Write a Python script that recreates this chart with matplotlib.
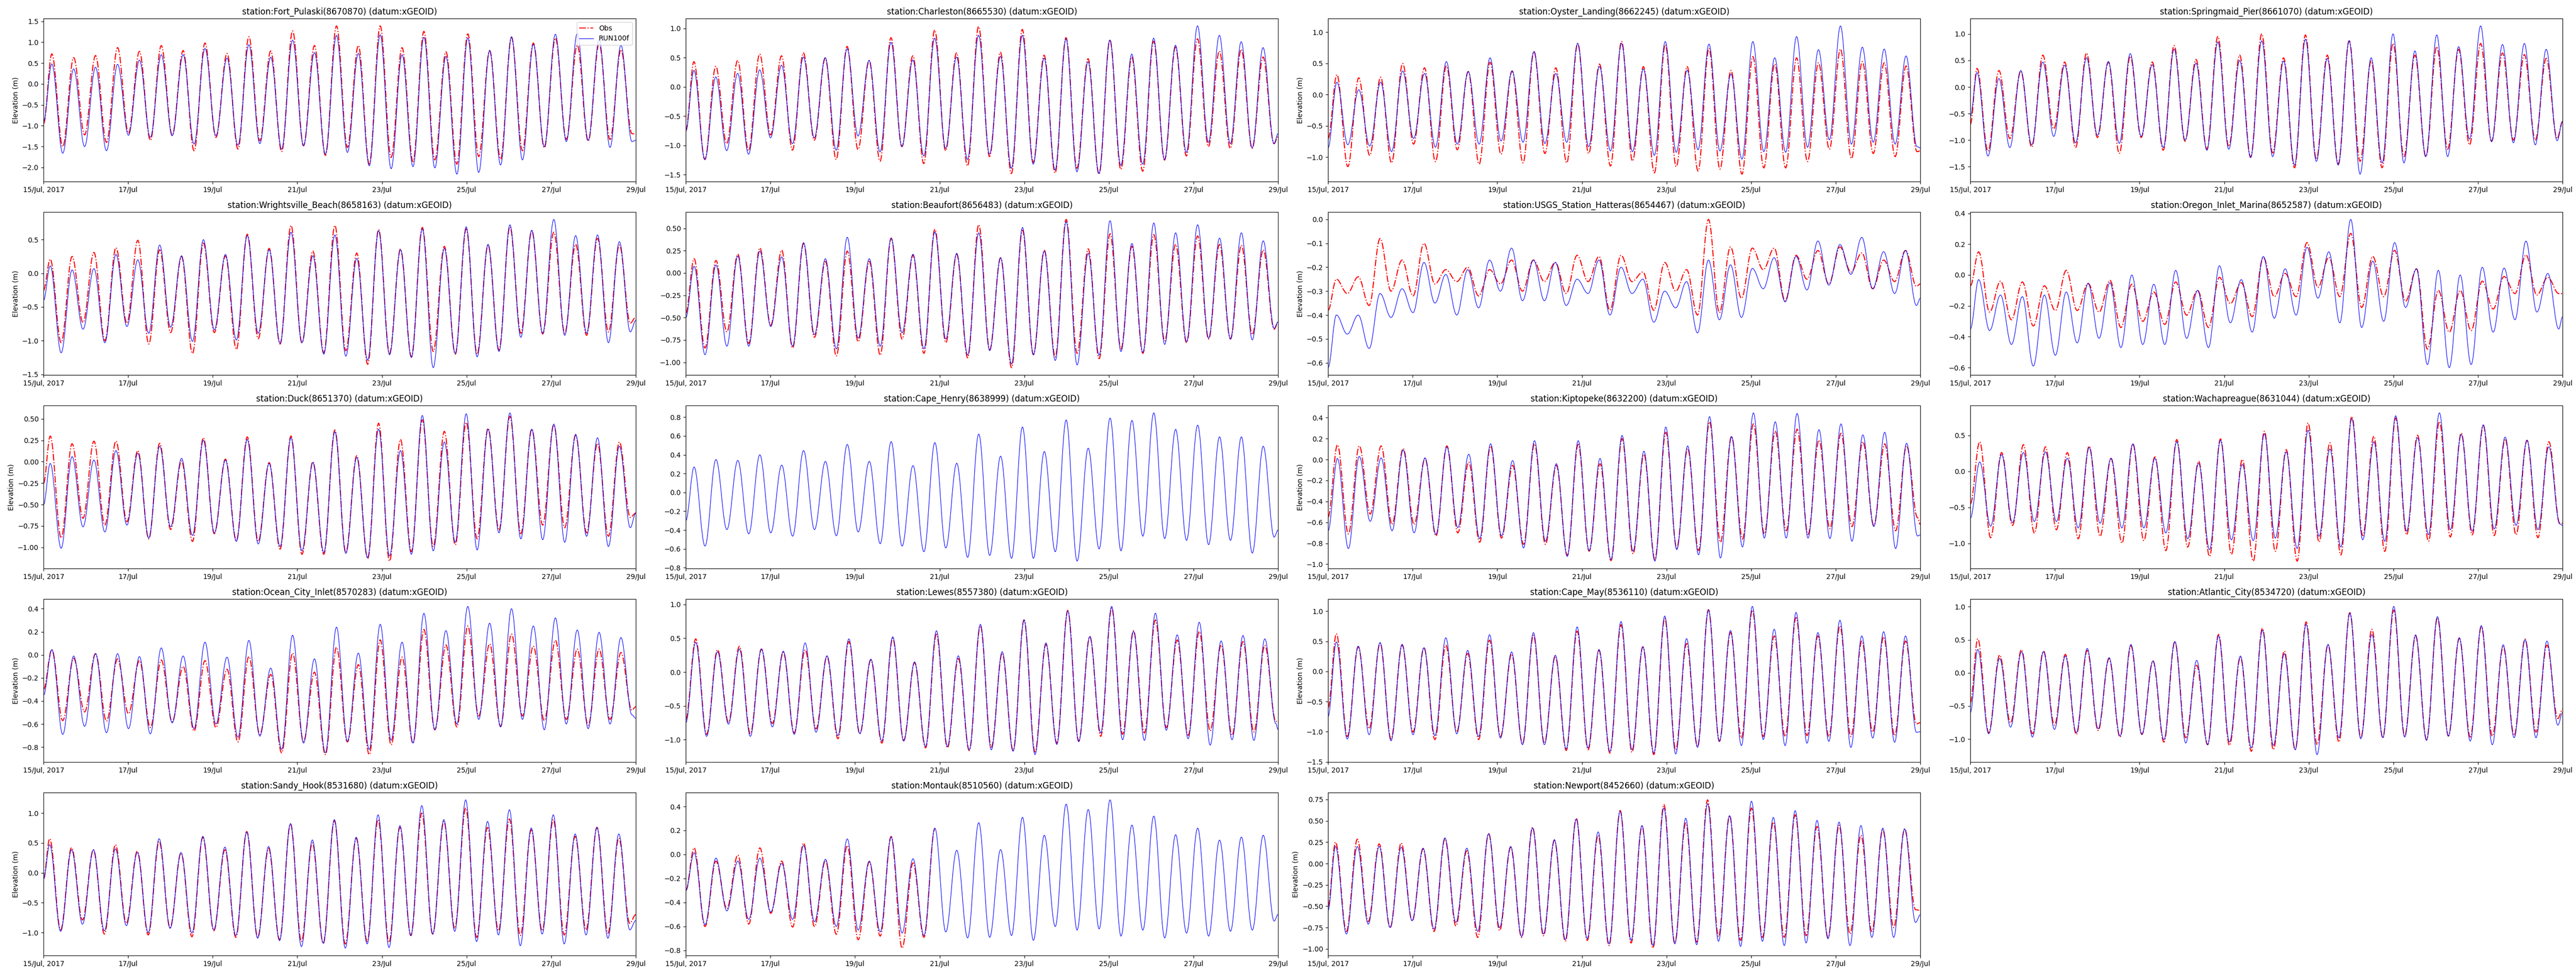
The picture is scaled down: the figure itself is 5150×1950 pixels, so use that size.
"""Water level comparison: observations vs RUN100f, 19 NOAA stations."""
import matplotlib
matplotlib.use("Agg")
import matplotlib.pyplot as plt
import matplotlib.dates as mdates
from matplotlib.lines import Line2D
from matplotlib.path import Path
from matplotlib.patches import PathPatch
import numpy as np

T0 = np.datetime64("2017-07-15T00:00:00")
T_END = np.datetime64("2017-07-29T00:00:00")

# hours (from 15 Jul 00:00) of successive high / low waters
hi_hours = [4.7, 17.1, 29.5, 42.0, 54.4, 66.8, 79.2, 91.6, 104.1, 116.5, 128.9, 141.3, 153.7, 166.2,
            178.6, 191.0, 203.4, 215.8, 228.3, 240.7, 253.1, 265.5, 277.9, 290.4, 302.8, 315.2, 327.6]
lo_hours = [10.9, 23.3, 35.7, 48.2, 60.6, 73.0, 85.4, 97.8, 110.3, 122.7, 135.1, 147.5, 159.9, 172.4,
            184.8, 197.2, 209.6, 222.0, 234.5, 246.9, 259.3, 271.7, 284.1, 296.6, 309.0, 321.4, 333.8]

tick_days = ["2017-07-15", "2017-07-17", "2017-07-19", "2017-07-21", "2017-07-23",
             "2017-07-25", "2017-07-27", "2017-07-29"]
tick_labels = ["15/Jul, 2017", "17/Jul", "19/Jul", "21/Jul", "23/Jul", "25/Jul", "27/Jul", "29/Jul"]

# ends = [obs_start, obs_end, model_start, model_end]
fp_obs_hi = [0.72, 0.63, 0.68, 0.87, 0.78, 0.92, 0.80, 0.98, 0.73, 1.13, 0.79, 1.27, 0.92, 1.39, 0.92, 1.39, 0.87, 1.26, 0.77, 1.20, 0.80, 1.12, 0.98, 1.10, 0.93, 0.97, 0.82]
fp_obs_lo = [-1.50, -1.22, -1.40, -1.18, -1.35, -1.23, -1.60, -1.28, -1.56, -1.36, -1.62, -1.48, -1.71, -1.52, -1.92, -1.76, -1.86, -1.82, -1.92, -1.74, -1.80, -1.60, -1.53, -1.33, -1.37, -1.33, -1.19]
fp_mod_hi = [0.48, 0.36, 0.40, 0.47, 0.57, 0.70, 0.70, 0.85, 0.62, 0.94, 0.64, 1.05, 0.75, 1.16, 0.73, 1.18, 0.70, 1.12, 0.66, 1.10, 0.80, 1.13, 0.95, 1.19, 1.21, 1.06, 0.93]
fp_mod_lo = [-1.66, -1.50, -1.60, -1.23, -1.28, -1.24, -1.44, -1.24, -1.47, -1.43, -1.56, -1.48, -1.68, -1.64, -1.96, -2.03, -1.98, -2.01, -2.16, -2.12, -1.94, -1.82, -1.50, -1.38, -1.35, -1.52, -1.38]
fp_ends = [-0.95, -1.20, -0.90, -1.35]

ch_obs_hi = [0.43, 0.35, 0.45, 0.56, 0.53, 0.58, 0.49, 0.69, 0.45, 0.84, 0.53, 0.97, 0.58, 1.03, 0.59, 0.98, 0.54, 0.84, 0.48, 0.80, 0.51, 0.78, 0.68, 0.82, 0.61, 0.64, 0.51]
ch_obs_lo = [-1.24, -0.97, -1.09, -0.82, -1.08, -0.91, -1.24, -1.07, -1.27, -1.02, -1.31, -1.09, -1.35, -1.19, -1.48, -1.29, -1.47, -1.39, -1.49, -1.41, -1.44, -1.25, -1.18, -1.02, -1.05, -1.05, -0.97]
ch_mod_hi = [0.28, 0.17, 0.23, 0.29, 0.37, 0.51, 0.50, 0.65, 0.45, 0.76, 0.46, 0.83, 0.51, 0.88, 0.52, 0.88, 0.49, 0.82, 0.43, 0.80, 0.56, 0.83, 0.71, 1.04, 0.88, 0.77, 0.67]
ch_mod_lo = [-1.24, -1.09, -1.15, -0.87, -0.97, -0.87, -1.08, -0.84, -1.11, -1.02, -1.18, -1.05, -1.24, -1.15, -1.39, -1.32, -1.42, -1.45, -1.48, -1.34, -1.32, -1.24, -1.12, -0.95, -0.97, -1.04, -0.97]
ch_ends = [-0.75, -0.85, -0.75, -0.80]

oy_obs_hi = [0.32, 0.27, 0.28, 0.50, 0.43, 0.46, 0.37, 0.52, 0.38, 0.69, 0.43, 0.82, 0.49, 0.85, 0.45, 0.80, 0.45, 0.74, 0.39, 0.61, 0.49, 0.59, 0.51, 0.73, 0.53, 0.51, 0.46]
oy_obs_lo = [-1.15, -0.97, -1.09, -0.79, -1.07, -0.88, -1.11, -0.95, -1.09, -0.94, -1.09, -0.94, -1.14, -1.06, -1.25, -1.15, -1.22, -1.19, -1.27, -1.17, -1.17, -1.07, -0.87, -1.02, -0.94, -0.99, -0.91]
oy_mod_hi = [0.20, 0.08, 0.20, 0.38, 0.34, 0.53, 0.37, 0.59, 0.38, 0.69, 0.34, 0.82, 0.45, 0.82, 0.41, 0.85, 0.39, 0.81, 0.33, 0.85, 0.59, 0.93, 0.72, 1.10, 0.76, 0.73, 0.62]
oy_mod_lo = [-0.80, -0.82, -0.91, -0.70, -0.84, -0.79, -0.79, -0.74, -0.76, -0.78, -0.76, -0.83, -0.90, -0.91, -0.97, -0.92, -0.88, -0.90, -1.03, -0.91, -0.92, -0.84, -0.72, -0.79, -0.76, -0.79, -0.83]
oy_ends = [-0.70, -0.90, -0.85, -0.85]

sp_obs_hi = [0.35, 0.31, 0.30, 0.60, 0.47, 0.64, 0.47, 0.58, 0.47, 0.78, 0.52, 0.95, 0.60, 1.00, 0.55, 0.98, 0.60, 0.87, 0.49, 0.82, 0.60, 0.76, 0.71, 0.82, 0.64, 0.61, 0.54]
sp_obs_lo = [-1.21, -0.97, -1.13, -0.79, -1.14, -0.95, -1.25, -0.95, -1.19, -1.02, -1.17, -1.12, -1.32, -1.24, -1.52, -1.36, -1.45, -1.40, -1.52, -1.31, -1.31, -1.17, -1.09, -1.02, -1.00, -1.00, -0.97]
sp_mod_hi = [0.27, 0.16, 0.31, 0.47, 0.41, 0.55, 0.48, 0.63, 0.42, 0.71, 0.45, 0.85, 0.50, 0.87, 0.49, 0.90, 0.54, 0.87, 0.55, 1.00, 0.68, 0.98, 0.76, 1.15, 0.80, 0.82, 0.71]
sp_mod_lo = [-1.30, -1.14, -1.09, -0.93, -1.05, -0.91, -1.06, -0.93, -1.14, -1.00, -1.19, -1.17, -1.33, -1.31, -1.47, -1.40, -1.47, -1.64, -1.43, -1.43, -1.31, -1.31, -0.98, -1.03, -1.05, -1.09, -1.01]
sp_ends = [-0.70, -0.65, -0.55, -0.65]

wb_obs_hi = [0.21, 0.25, 0.31, 0.38, 0.49, 0.35, 0.25, 0.45, 0.26, 0.58, 0.37, 0.71, 0.33, 0.71, 0.30, 0.65, 0.36, 0.68, 0.40, 0.66, 0.42, 0.69, 0.63, 0.61, 0.43, 0.52, 0.42]
wb_obs_lo = [-1.03, -0.73, -1.00, -0.74, -1.05, -0.88, -1.19, -0.88, -1.13, -0.97, -1.05, -1.03, -1.18, -1.15, -1.35, -1.19, -1.24, -1.16, -1.20, -1.20, -1.14, -0.89, -0.90, -0.89, -0.92, -0.87, -0.74]
wb_mod_hi = [0.11, 0.05, 0.07, 0.28, 0.20, 0.42, 0.26, 0.50, 0.28, 0.56, 0.35, 0.61, 0.26, 0.57, 0.22, 0.63, 0.35, 0.66, 0.37, 0.69, 0.43, 0.72, 0.64, 0.80, 0.56, 0.57, 0.47]
wb_mod_lo = [-1.18, -0.83, -1.03, -0.79, -0.89, -0.80, -1.01, -0.84, -0.99, -0.89, -1.04, -1.03, -1.20, -1.23, -1.29, -1.21, -1.25, -1.40, -1.19, -1.24, -1.16, -0.95, -0.89, -0.92, -0.89, -1.03, -0.87]
wb_ends = [-0.25, -0.65, -0.40, -0.70]

bf_obs_hi = [0.16, 0.14, 0.21, 0.28, 0.255, 0.33, 0.13, 0.245, 0.13, 0.39, 0.20, 0.49, 0.21, 0.54, 0.17, 0.48, 0.255, 0.60, 0.27, 0.44, 0.30, 0.43, 0.32, 0.415, 0.32, 0.31, 0.26]
bf_obs_lo = [-0.84, -0.66, -0.79, -0.585, -0.84, -0.72, -0.93, -0.77, -0.92, -0.74, -0.90, -0.78, -0.95, -0.86, -1.06, -0.915, -0.94, -0.90, -0.96, -0.85, -0.90, -0.76, -0.78, -0.74, -0.74, -0.69, -0.63]
bf_mod_hi = [0.075, 0.09, 0.19, 0.245, 0.18, 0.34, 0.16, 0.40, 0.16, 0.39, 0.21, 0.46, 0.22, 0.45, 0.17, 0.51, 0.245, 0.575, 0.22, 0.585, 0.33, 0.56, 0.45, 0.54, 0.39, 0.45, 0.36]
bf_mod_lo = [-0.915, -0.82, -0.82, -0.60, -0.82, -0.69, -0.85, -0.73, -0.82, -0.67, -0.85, -0.74, -0.92, -0.87, -1.02, -0.915, -0.98, -1.03, -0.92, -0.88, -0.89, -0.80, -0.77, -0.73, -0.74, -0.75, -0.62]
bf_ends = [-0.45, -0.55, -0.50, -0.55]

ht_obs_hi = [-0.25, -0.24, -0.08, -0.17, -0.10, -0.21, -0.20, -0.21, -0.17, -0.17, -0.18, -0.15, -0.155, -0.15, -0.22, -0.18, -0.21, 0.0, -0.115, -0.12, -0.12, -0.15, -0.13, -0.115, -0.14, -0.17, -0.13]
ht_obs_lo = [-0.31, -0.36, -0.30, -0.32, -0.27, -0.26, -0.32, -0.27, -0.30, -0.26, -0.31, -0.26, -0.38, -0.26, -0.38, -0.30, -0.40, -0.39, -0.33, -0.21, -0.34, -0.25, -0.27, -0.22, -0.29, -0.26, -0.28]
ht_mod_hi = [-0.40, -0.40, -0.31, -0.29, -0.18, -0.23, -0.21, -0.17, -0.12, -0.17, -0.18, -0.25, -0.17, -0.20, -0.25, -0.30, -0.26, -0.17, -0.19, -0.205, -0.16, -0.155, -0.09, -0.105, -0.075, -0.135, -0.13]
ht_mod_lo = [-0.48, -0.54, -0.41, -0.39, -0.35, -0.40, -0.37, -0.30, -0.34, -0.34, -0.36, -0.31, -0.40, -0.31, -0.43, -0.37, -0.475, -0.42, -0.41, -0.29, -0.345, -0.295, -0.275, -0.23, -0.29, -0.31, -0.36]
ht_ends = [-0.38, -0.27, -0.62, -0.33]

or_obs_hi = [0.15, -0.04, -0.045, -0.07, 0.03, -0.055, -0.035, -0.06, -0.11, -0.045, -0.10, -0.015, -0.05, 0.115, 0.01, 0.21, 0.115, 0.27, 0.12, 0.16, 0.04, -0.10, -0.10, -0.04, -0.01, 0.13, -0.015]
or_obs_lo = [-0.24, -0.29, -0.33, -0.23, -0.23, -0.24, -0.34, -0.30, -0.32, -0.26, -0.34, -0.185, -0.27, -0.14, -0.14, -0.08, -0.14, -0.21, -0.14, -0.17, -0.48, -0.37, -0.36, -0.22, -0.12, -0.13, -0.12]
or_mod_hi = [-0.03, -0.13, -0.14, -0.13, -0.11, -0.055, -0.05, 0.0, -0.06, 0.03, -0.10, 0.06, -0.03, 0.12, 0.04, 0.18, 0.15, 0.36, 0.09, 0.21, 0.04, 0.03, 0.0, 0.05, 0.045, 0.22, 0.01]
or_mod_lo = [-0.36, -0.45, -0.59, -0.52, -0.44, -0.41, -0.47, -0.45, -0.45, -0.41, -0.47, -0.31, -0.37, -0.28, -0.26, -0.15, -0.31, -0.34, -0.30, -0.21, -0.58, -0.60, -0.58, -0.37, -0.29, -0.24, -0.35]
or_ends = [-0.07, -0.12, -0.35, -0.27]

dk_obs_hi = [0.30, 0.21, 0.24, 0.24, 0.13, 0.215, 0.01, 0.28, 0.03, 0.29, -0.01, 0.30, 0.00, 0.37, 0.07, 0.45, 0.26, 0.49, 0.355, 0.46, 0.39, 0.53, 0.38, 0.43, 0.31, 0.215, 0.23]
dk_obs_lo = [-0.89, -0.66, -0.74, -0.70, -0.90, -0.79, -0.93, -0.84, -0.92, -0.93, -1.02, -1.08, -1.08, -1.06, -1.13, -1.16, -1.05, -0.99, -0.97, -0.90, -0.80, -0.84, -0.74, -0.77, -0.83, -0.87, -0.65]
dk_mod_hi = [-0.02, 0.06, 0.02, 0.13, 0.10, 0.18, 0.04, 0.25, 0.02, 0.26, -0.02, 0.28, -0.01, 0.35, 0.05, 0.38, 0.13, 0.54, 0.23, 0.56, 0.38, 0.57, 0.38, 0.44, 0.32, 0.28, 0.18]
dk_mod_lo = [-1.01, -0.76, -0.82, -0.74, -0.89, -0.76, -0.86, -0.83, -0.93, -0.96, -0.99, -1.04, -1.06, -1.07, -1.12, -1.10, -1.08, -1.04, -0.94, -1.03, -0.83, -0.90, -0.91, -0.94, -0.87, -0.99, -0.77]
dk_ends = [-0.25, -0.60, -0.50, -0.60]

chn_mod_hi = [0.27, 0.35, 0.34, 0.40, 0.29, 0.445, 0.33, 0.51, 0.33, 0.54, 0.285, 0.53, 0.31, 0.62, 0.385, 0.695, 0.435, 0.77, 0.47, 0.79, 0.765, 0.845, 0.67, 0.715, 0.59, 0.59, 0.49]
chn_mod_lo = [-0.57, -0.395, -0.44, -0.43, -0.465, -0.395, -0.46, -0.42, -0.545, -0.57, -0.63, -0.59, -0.69, -0.67, -0.70, -0.70, -0.63, -0.73, -0.60, -0.62, -0.465, -0.49, -0.51, -0.555, -0.51, -0.645, -0.475]
chn_ends = [None, None, -0.30, -0.40]

kp_obs_hi = [0.14, 0.13, 0.13, 0.105, 0.01, 0.13, -0.025, 0.13, -0.055, 0.15, -0.055, 0.145, -0.04, 0.20, 0.05, 0.26, 0.105, 0.36, 0.22, 0.34, 0.27, 0.29, 0.185, 0.25, 0.17, 0.15, 0.13]
kp_obs_lo = [-0.71, -0.52, -0.62, -0.62, -0.73, -0.70, -0.79, -0.75, -0.81, -0.81, -0.915, -0.875, -0.965, -0.90, -0.955, -0.845, -0.87, -0.79, -0.76, -0.71, -0.68, -0.715, -0.66, -0.64, -0.63, -0.68, -0.555]
kp_mod_hi = [0.01, 0.03, 0.016, 0.09, 0.016, 0.12, 0.05, 0.15, -0.01, 0.18, -0.04, 0.18, 0.01, 0.23, 0.08, 0.31, 0.13, 0.41, 0.22, 0.445, 0.36, 0.44, 0.285, 0.34, 0.235, 0.26, 0.155]
kp_mod_lo = [-0.85, -0.59, -0.68, -0.70, -0.715, -0.65, -0.755, -0.73, -0.845, -0.78, -0.925, -0.87, -0.955, -0.875, -0.97, -0.86, -0.91, -0.94, -0.835, -0.75, -0.75, -0.75, -0.755, -0.78, -0.64, -0.85, -0.73]
kp_ends = [-0.55, -0.62, -0.68, -0.72]

wc_obs_hi = [0.41, 0.26, 0.37, 0.34, 0.26, 0.35, 0.18, 0.38, 0.20, 0.44, 0.14, 0.45, 0.165, 0.555, 0.30, 0.67, 0.395, 0.76, 0.485, 0.74, 0.50, 0.69, 0.53, 0.635, 0.45, 0.43, 0.41]
wc_obs_lo = [-0.92, -0.75, -0.855, -0.81, -0.935, -0.90, -0.995, -0.96, -1.10, -1.05, -1.18, -1.15, -1.245, -1.11, -1.245, -0.98, -1.16, -0.89, -1.11, -0.88, -0.97, -0.91, -0.88, -0.89, -0.88, -0.92, -0.72]
wc_mod_hi = [0.13, 0.23, 0.26, 0.27, 0.18, 0.33, 0.18, 0.38, 0.18, 0.41, 0.11, 0.43, 0.095, 0.52, 0.27, 0.57, 0.31, 0.73, 0.41, 0.77, 0.465, 0.81, 0.51, 0.645, 0.475, 0.43, 0.34]
wc_mod_lo = [-0.76, -0.71, -0.695, -0.695, -0.785, -0.72, -0.785, -0.785, -0.855, -0.935, -1.085, -0.95, -0.96, -0.925, -1.07, -0.90, -1.05, -0.95, -0.97, -0.83, -0.88, -0.81, -0.83, -0.80, -0.75, -0.81, -0.73]
wc_ends = [-0.45, -0.72, -0.65, -0.75]

oc_obs_hi = [0.045, -0.03, 0.01, -0.035, -0.05, -0.045, -0.10, -0.05, -0.125, -0.015, -0.17, 0.015, -0.15, 0.065, -0.085, 0.13, -0.02, 0.22, 0.085, 0.25, 0.095, 0.18, 0.075, 0.125, 0.05, 0.05, 0.02]
oc_obs_lo = [-0.57, -0.495, -0.575, -0.51, -0.63, -0.58, -0.66, -0.63, -0.755, -0.69, -0.85, -0.75, -0.865, -0.755, -0.865, -0.78, -0.765, -0.65, -0.625, -0.53, -0.62, -0.53, -0.57, -0.56, -0.61, -0.56, -0.48]
oc_mod_hi = [0.045, -0.01, 0.01, 0.01, -0.015, 0.06, -0.01, 0.11, -0.02, 0.125, -0.115, 0.17, -0.035, 0.24, 0.015, 0.265, 0.11, 0.36, 0.21, 0.42, 0.275, 0.40, 0.25, 0.32, 0.215, 0.195, 0.15]
oc_mod_lo = [-0.69, -0.62, -0.675, -0.64, -0.685, -0.59, -0.64, -0.60, -0.715, -0.705, -0.82, -0.765, -0.85, -0.75, -0.82, -0.74, -0.765, -0.65, -0.60, -0.56, -0.625, -0.56, -0.65, -0.60, -0.64, -0.60, -0.52]
oc_ends = [-0.30, -0.45, -0.35, -0.55]

lw_obs_hi = [0.49, 0.33, 0.38, 0.34, 0.29, 0.33, 0.23, 0.45, 0.18, 0.50, 0.14, 0.56, 0.20, 0.685, 0.28, 0.77, 0.41, 0.91, 0.525, 0.945, 0.61, 0.77, 0.475, 0.60, 0.40, 0.45, 0.395]
lw_obs_lo = [-0.92, -0.74, -0.91, -0.76, -0.90, -0.84, -0.985, -0.91, -1.05, -1.01, -1.12, -1.12, -1.16, -1.11, -1.16, -1.18, -1.05, -1.02, -0.95, -0.92, -0.90, -0.82, -0.935, -0.87, -0.935, -0.885, -0.725]
lw_mod_hi = [0.44, 0.30, 0.34, 0.34, 0.31, 0.43, 0.24, 0.49, 0.19, 0.52, 0.15, 0.61, 0.24, 0.705, 0.30, 0.77, 0.43, 0.90, 0.525, 0.97, 0.60, 0.87, 0.55, 0.735, 0.46, 0.54, 0.49]
lw_mod_lo = [-0.95, -0.77, -0.95, -0.81, -0.92, -0.89, -0.94, -0.91, -1.02, -1.02, -1.10, -1.10, -1.15, -1.15, -1.17, -1.22, -1.07, -1.03, -0.90, -1.00, -1.01, -0.86, -0.985, -1.08, -1.00, -1.01, -0.76]
lw_ends = [-0.70, -0.75, -0.75, -0.85]

cm_obs_hi = [0.625, 0.41, 0.47, 0.44, 0.395, 0.435, 0.30, 0.52, 0.29, 0.60, 0.255, 0.67, 0.35, 0.775, 0.41, 0.88, 0.465, 1.025, 0.65, 1.02, 0.59, 0.895, 0.59, 0.755, 0.505, 0.575, 0.505]
cm_obs_lo = [-1.08, -0.95, -1.12, -1.005, -1.13, -1.005, -1.13, -1.08, -1.20, -1.19, -1.31, -1.30, -1.355, -1.34, -1.38, -1.30, -1.245, -1.16, -1.105, -1.08, -1.08, -1.065, -1.08, -1.08, -1.005, -1.065, -0.87]
cm_mod_hi = [0.49, 0.42, 0.48, 0.45, 0.395, 0.56, 0.35, 0.61, 0.325, 0.645, 0.27, 0.74, 0.365, 0.83, 0.41, 0.92, 0.545, 1.02, 0.68, 1.08, 0.70, 0.98, 0.645, 0.85, 0.59, 0.66, 0.59]
cm_mod_lo = [-1.12, -1.05, -1.15, -1.05, -1.065, -1.035, -1.08, -1.105, -1.215, -1.215, -1.285, -1.27, -1.33, -1.30, -1.355, -1.37, -1.26, -1.16, -1.23, -1.13, -1.23, -1.19, -1.16, -1.26, -1.105, -1.175, -1.01]
cm_ends = [-0.60, -0.85, -0.75, -1.00]

ac_obs_hi = [0.515, 0.27, 0.35, 0.33, 0.28, 0.34, 0.22, 0.41, 0.18, 0.47, 0.115, 0.58, 0.24, 0.675, 0.33, 0.77, 0.425, 0.91, 0.66, 0.95, 0.56, 0.835, 0.525, 0.70, 0.395, 0.51, 0.42]
ac_obs_lo = [-0.905, -0.755, -0.92, -0.79, -0.93, -0.87, -0.97, -0.93, -1.045, -0.98, -1.085, -1.095, -1.185, -1.16, -1.16, -1.085, -1.045, -0.98, -0.98, -0.955, -1.01, -0.955, -0.97, -0.955, -0.945, -0.895, -0.69]
ac_mod_hi = [0.355, 0.22, 0.32, 0.32, 0.255, 0.37, 0.23, 0.43, 0.18, 0.475, 0.19, 0.56, 0.255, 0.645, 0.29, 0.735, 0.43, 0.905, 0.58, 1.005, 0.575, 0.85, 0.53, 0.715, 0.425, 0.50, 0.48]
ac_mod_lo = [-0.92, -0.82, -0.97, -0.855, -0.905, -0.845, -0.955, -0.93, -1.01, -1.06, -1.085, -1.045, -1.135, -1.095, -1.16, -1.235, -0.98, -0.995, -0.98, -0.97, -1.02, -0.955, -1.03, -1.085, -0.98, -0.98, -0.79]
ac_ends = [-0.45, -0.55, -0.60, -0.60]

sh_obs_hi = [0.57, 0.42, 0.385, 0.47, 0.36, 0.525, 0.33, 0.595, 0.385, 0.69, 0.41, 0.82, 0.50, 0.875, 0.58, 0.89, 0.76, 1.00, 0.86, 1.085, 0.76, 0.90, 0.72, 0.89, 0.61, 0.76, 0.58]
sh_obs_lo = [-0.955, -0.79, -1.025, -0.845, -1.04, -0.915, -1.07, -0.97, -1.08, -1.08, -1.12, -1.15, -1.18, -1.19, -1.15, -1.165, -1.05, -1.025, -0.93, -1.08, -0.97, -1.05, -0.97, -1.04, -0.955, -1.01, -0.845]
sh_mod_hi = [0.47, 0.385, 0.385, 0.40, 0.34, 0.57, 0.34, 0.61, 0.43, 0.68, 0.44, 0.82, 0.55, 0.89, 0.595, 0.97, 0.79, 1.125, 0.89, 1.22, 0.86, 1.055, 0.75, 0.97, 0.65, 0.76, 0.65]
sh_mod_lo = [-0.98, -0.86, -0.97, -0.885, -1.00, -0.93, -1.01, -0.955, -1.05, -1.095, -1.135, -1.235, -1.18, -1.26, -1.19, -1.25, -1.05, -1.025, -0.98, -1.15, -1.04, -1.22, -1.025, -1.19, -1.04, -1.095, -0.955]
sh_ends = [-0.10, -0.70, -0.10, -0.80]

# Montauk observations stop on 21 Jul
mt_obs_hi = [0.055, -0.055, -0.005, 0.055, -0.055, 0.095, -0.05, 0.075, -0.06, 0.15, -0.07, 0.215]
mt_obs_lo = [-0.60, -0.45, -0.58, -0.49, -0.605, -0.60, -0.665, -0.71, -0.68, -0.78, -0.69]
mt_mod_hi = [0.015, -0.03, -0.055, -0.03, -0.075, 0.075, -0.04, 0.13, -0.055, 0.145, -0.035, 0.22, 0.035, 0.265, 0.04, 0.31, 0.16, 0.42, 0.375, 0.455, 0.245, 0.32, 0.165, 0.22, 0.12, 0.145, 0.16]
mt_mod_lo = [-0.585, -0.47, -0.54, -0.48, -0.54, -0.56, -0.60, -0.63, -0.645, -0.655, -0.675, -0.645, -0.695, -0.69, -0.675, -0.715, -0.60, -0.63, -0.62, -0.68, -0.63, -0.695, -0.655, -0.68, -0.64, -0.63, -0.555]
mt_ends = [-0.30, None, -0.30, -0.50]

np_obs_hi = [0.25, 0.285, 0.23, 0.24, 0.17, 0.29, 0.15, 0.35, 0.19, 0.425, 0.27, 0.53, 0.33, 0.62, 0.435, 0.69, 0.475, 0.745, 0.56, 0.65, 0.485, 0.57, 0.435, 0.445, 0.33, 0.395, 0.405]
np_obs_lo = [-0.795, -0.68, -0.75, -0.67, -0.795, -0.73, -0.865, -0.785, -0.865, -0.845, -0.91, -0.90, -0.96, -0.93, -0.99, -0.93, -0.92, -0.855, -0.90, -0.865, -0.865, -0.845, -0.865, -0.825, -0.795, -0.75, -0.54]
np_mod_hi = [0.20, 0.20, 0.20, 0.19, 0.18, 0.30, 0.18, 0.35, 0.20, 0.415, 0.28, 0.52, 0.37, 0.61, 0.445, 0.65, 0.53, 0.70, 0.56, 0.73, 0.54, 0.62, 0.505, 0.485, 0.445, 0.415, 0.405]
np_mod_lo = [-0.825, -0.71, -0.75, -0.67, -0.77, -0.69, -0.795, -0.75, -0.855, -0.825, -0.89, -0.88, -0.94, -0.90, -0.96, -0.94, -0.95, -0.91, -0.97, -0.91, -0.96, -0.93, -0.88, -0.96, -0.865, -0.865, -0.69]
np_ends = [-0.50, -0.55, -0.55, -0.60]

stations = [
    ("Fort_Pulaski(8670870)", fp_obs_hi, fp_obs_lo, fp_mod_hi, fp_mod_lo, fp_ends, 0.0),
    ("Charleston(8665530)", ch_obs_hi, ch_obs_lo, ch_mod_hi, ch_mod_lo, ch_ends, -0.1),
    ("Oyster_Landing(8662245)", oy_obs_hi, oy_obs_lo, oy_mod_hi, oy_mod_lo, oy_ends, 0.3),
    ("Springmaid_Pier(8661070)", sp_obs_hi, sp_obs_lo, sp_mod_hi, sp_mod_lo, sp_ends, -0.9),
    ("Wrightsville_Beach(8658163)", wb_obs_hi, wb_obs_lo, wb_mod_hi, wb_mod_lo, wb_ends, -0.9),
    ("Beaufort(8656483)", bf_obs_hi, bf_obs_lo, bf_mod_hi, bf_mod_lo, bf_ends, 0.0),
    ("USGS_Station_Hatteras(8654467)", ht_obs_hi, ht_obs_lo, ht_mod_hi, ht_mod_lo, ht_ends, 0.0),
    ("Oregon_Inlet_Marina(8652587)", or_obs_hi, or_obs_lo, or_mod_hi, or_mod_lo, or_ends, 0.0),
    ("Duck(8651370)", dk_obs_hi, dk_obs_lo, dk_mod_hi, dk_mod_lo, dk_ends, -0.9),
    ("Cape_Henry(8638999)", None, None, chn_mod_hi, chn_mod_lo, chn_ends, 0.0),
    ("Kiptopeke(8632200)", kp_obs_hi, kp_obs_lo, kp_mod_hi, kp_mod_lo, kp_ends, 0.6),
    ("Wachapreague(8631044)", wc_obs_hi, wc_obs_lo, wc_mod_hi, wc_mod_lo, wc_ends, 0.6),
    ("Ocean_City_Inlet(8570283)", oc_obs_hi, oc_obs_lo, oc_mod_hi, oc_mod_lo, oc_ends, 0.0),
    ("Lewes(8557380)", lw_obs_hi, lw_obs_lo, lw_mod_hi, lw_mod_lo, lw_ends, 0.9),
    ("Cape_May(8536110)", cm_obs_hi, cm_obs_lo, cm_mod_hi, cm_mod_lo, cm_ends, 0.0),
    ("Atlantic_City(8534720)", ac_obs_hi, ac_obs_lo, ac_mod_hi, ac_mod_lo, ac_ends, -0.5),
    ("Sandy_Hook(8531680)", sh_obs_hi, sh_obs_lo, sh_mod_hi, sh_mod_lo, sh_ends, -1.2),
    ("Montauk(8510560)", mt_obs_hi, mt_obs_lo, mt_mod_hi, mt_mod_lo, mt_ends, 0.0),
    ("Newport(8452660)", np_obs_hi, np_obs_lo, np_mod_hi, np_mod_lo, np_ends, -0.5),
]

OBS_STYLE = dict(color="red", linestyle="-.", linewidth=1.5)
MOD_STYLE = dict(color="blue", linestyle="-", linewidth=0.8)
C = 1 - 2 / np.pi  # bezier handle length that mimics a half cosine between extrema


def to_num(hours):
    secs = np.round(np.asarray(hours) * 3600).astype(np.int64)
    return mdates.date2num(T0 + secs.astype("timedelta64[s]"))


def series(start, hi, lo, end, lag):
    hours, vals = [0.0], [start]
    for k in range(len(hi)):
        hours.append(hi_hours[k] + lag)
        vals.append(hi[k])
        if k < len(lo):
            hours.append(lo_hours[k] + lag)
            vals.append(lo[k])
    if end is not None:
        hours.append(336.0)
        vals.append(end)
    return to_num(hours), vals


def tide_curve(ax, x, y, style):
    # smooth curve through the read high/low waters (flat tangent at each extremum)
    verts = [(x[0], y[0])]
    codes = [Path.MOVETO]
    for a in range(len(x) - 1):
        dx = x[a + 1] - x[a]
        verts += [(x[a] + C * dx, y[a]), (x[a + 1] - C * dx, y[a + 1]), (x[a + 1], y[a + 1])]
        codes += [Path.CURVE4] * 3
    ax.add_patch(PathPatch(Path(verts, codes), fill=False, edgecolor=style["color"],
                           linestyle=style["linestyle"], linewidth=style["linewidth"]))


fig, axes = plt.subplots(5, 4, figsize=(51.5, 19.5), dpi=100)
fig.subplots_adjust(left=0.0169, right=0.9948, top=0.981, bottom=0.020, wspace=0.0845, hspace=0.187)

ticks = mdates.date2num(np.array(tick_days, dtype="datetime64[s]"))
for i, (name, o_hi, o_lo, m_hi, m_lo, ends, lag) in enumerate(stations):
    ax = axes.flat[i]
    if o_hi is not None:
        x, y = series(ends[0], o_hi, o_lo, ends[1], lag)
        tide_curve(ax, x, y, OBS_STYLE)
    x, y = series(ends[2], m_hi, m_lo, ends[3], lag)
    tide_curve(ax, x, y, MOD_STYLE)
    ax.autoscale_view()
    ax.set_title(f"station:{name} (datum:xGEOID)")
    ax.set_xlim(mdates.date2num(T0), mdates.date2num(T_END))
    ax.set_xticks(ticks)
    ax.set_xticklabels(tick_labels)
    if i % 2 == 0:
        ax.set_ylabel("Elevation (m)")
    if i == 0:
        handles = [Line2D([], [], label="Obs", **OBS_STYLE),
                   Line2D([], [], label="RUN100f", **MOD_STYLE)]
        ax.legend(handles=handles, loc="upper right")

axes.flat[19].axis("off")

fig.savefig("out.png", dpi=100)
plt.close(fig)
